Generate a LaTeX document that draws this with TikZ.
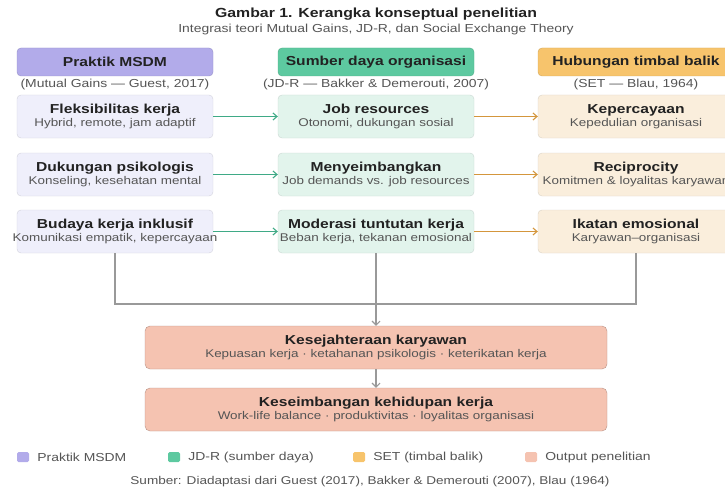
\documentclass[tikz,border=0pt]{standalone}
\usepackage{fontspec}
\setmainfont[FakeStretch=1.2]{Liberation Sans}
\usepackage{xcolor}
\definecolor{colMSDM}{HTML}{B2ABEA}
\definecolor{colJDR}{HTML}{5DC9A0}
\definecolor{colSET}{HTML}{F7C46C}
\definecolor{colOut}{HTML}{F5C3B1}
\definecolor{colMSDMlight}{HTML}{EFEFFB}
\definecolor{colJDRlight}{HTML}{E2F4EC}
\definecolor{colSETlight}{HTML}{FAEEDC}
\definecolor{colJDRLine}{HTML}{3FAA86}
\definecolor{colSETLine}{HTML}{D4963C}
\definecolor{txtDark}{HTML}{222222}
\definecolor{txtGray}{HTML}{555555}
\definecolor{linkGray}{HTML}{999999}
\usepackage{tikz}
\usetikzlibrary{arrows.meta, positioning}
\tikzset{
	headbox/.style={draw=#1!85!black, fill=#1, rounded corners=4pt, minimum width=196pt, minimum height=28pt, font=\bfseries\fontsize{13}{15}\selectfont, text=txtDark},
	itembox/.style={draw=#1!75!gray, fill=#1, rounded corners=4pt, minimum width=196pt, minimum height=43pt, align=center, text=txtDark, inner sep=1pt},
	outbox/.style={draw=colOut!75!black, fill=colOut, rounded corners=5pt, minimum width=462pt, minimum height=43pt, align=center, text=txtDark},
	subnote/.style={font=\fontsize{11.6}{13}\selectfont, text=txtGray},
	flowarr/.style={-{Straight Barb[length=4pt, width=7pt]}, line width=1.1pt, draw=#1},
	linkarr/.style={line width=1.1pt, draw=linkGray},
	legsq/.style={fill=#1, rounded corners=1.5pt, minimum width=12pt, minimum height=10pt, inner sep=0pt},
	legtxt/.style={font=\fontsize{11.6}{13}\selectfont, text=txtGray, inner sep=0pt},
}
% two-line box text; lines may run past the box edge
\newcommand{\boxtitle}[2]{\makebox[0pt]{\bfseries\fontsize{13}{14}\selectfont #1}\\[0.5pt]\makebox[0pt]{\fontsize{11.2}{13}\selectfont\color{txtGray}#2}}

\begin{document}
\begin{tikzpicture}[x=1pt, y=-1pt]
	\useasboundingbox (0,0) rectangle (725,492);

	% Title
	\node[font=\bfseries\fontsize{13.2}{15}\selectfont, text=txtDark] (title) at (376,14) {Gambar 1. Kerangka konseptual penelitian};
	\node[subnote] (subtitle) at (376,30) {Integrasi teori Mutual Gains, JD-R, dan Social Exchange Theory};

	% Column headers
	\node[headbox=colMSDM] (hMSDM) at (115,62) {Praktik MSDM};
	\node[subnote] at (115,84) {(Mutual Gains --- Guest, 2017)};
	\node[headbox=colJDR] (hJDR) at (376,62) {Sumber daya organisasi};
	\node[subnote] at (376,84) {(JD-R --- Bakker \& Demerouti, 2007)};
	\node[headbox=colSET] (hSET) at (636,62) {Hubungan timbal balik};
	\node[subnote] at (636,84) {(SET --- Blau, 1964)};

	% Praktik MSDM
	\node[itembox=colMSDMlight] (a1) at (115,116.5) {\boxtitle{Fleksibilitas kerja}{Hybrid, remote, jam adaptif}};
	\node[itembox=colMSDMlight] (a2) at (115,174.5) {\boxtitle{Dukungan psikologis}{Konseling, kesehatan mental}};
	\node[itembox=colMSDMlight] (a3) at (115,231.5) {\boxtitle{Budaya kerja inklusif}{Komunikasi empatik, kepercayaan}};

	% JD-R
	\node[itembox=colJDRlight] (b1) at (376,116.5) {\boxtitle{Job resources}{Otonomi, dukungan sosial}};
	\node[itembox=colJDRlight] (b2) at (376,174.5) {\boxtitle{Menyeimbangkan}{Job demands vs. job resources}};
	\node[itembox=colJDRlight] (b3) at (376,231.5) {\boxtitle{Moderasi tuntutan kerja}{Beban kerja, tekanan emosional}};

	% SET
	\node[itembox=colSETlight] (c1) at (636,116.5) {\boxtitle{Kepercayaan}{Kepedulian organisasi}};
	\node[itembox=colSETlight] (c2) at (636,174.5) {\boxtitle{Reciprocity}{Komitmen \& loyalitas karyawan}};
	\node[itembox=colSETlight] (c3) at (636,231.5) {\boxtitle{Ikatan emosional}{Karyawan--organisasi}};

	% Output
	\node[outbox] (wellbeing) at (376,347.5) {\boxtitle{Kesejahteraan karyawan}{Kepuasan kerja · ketahanan psikologis · keterikatan kerja}};
	\node[outbox] (balance) at (376,409.5) {\boxtitle{Keseimbangan kehidupan kerja}{Work-life balance · produktivitas · loyalitas organisasi}};

	% Arrows
	\foreach \i in {1,2,3}{
		\draw[flowarr=colJDRLine] (a\i) -- (b\i);
		\draw[flowarr=colSETLine] (b\i) -- (c\i);
	}
	\coordinate (join) at (376,304);
	\draw[linkarr] (a3.south) |- (join) -| (c3.south);
	\draw[linkarr, -{Straight Barb[length=4pt, width=8pt]}] (b3.south) -- (wellbeing.north);
	\draw[linkarr, -{Straight Barb[length=4pt, width=8pt]}] (wellbeing.south) -- (balance.north);

	% Legend
	\node[legsq=colMSDM] (lg1) at (23,457) {};
	\node[legtxt, right=8pt of lg1] (lt1) {Praktik MSDM};
	\node[legsq=colJDR] (lg2) at (174,457) {};
	\node[legtxt, right=8pt of lg2] (lt2) {JD-R (sumber daya)};
	\node[legsq=colSET] (lg3) at (359,457) {};
	\node[legtxt, right=8pt of lg3] (lt3) {SET (timbal balik)};
	\node[legsq=colOut] (lg4) at (531,457) {};
	\node[legtxt, right=8pt of lg4] (lt4) {Output penelitian};

	% Source
	\node[font=\fontsize{11.3}{13}\selectfont, text=txtGray] (source) at (370,482) {Sumber: Diadaptasi dari Guest (2017), Bakker \& Demerouti (2007), Blau (1964)};
\end{tikzpicture}
\end{document}
